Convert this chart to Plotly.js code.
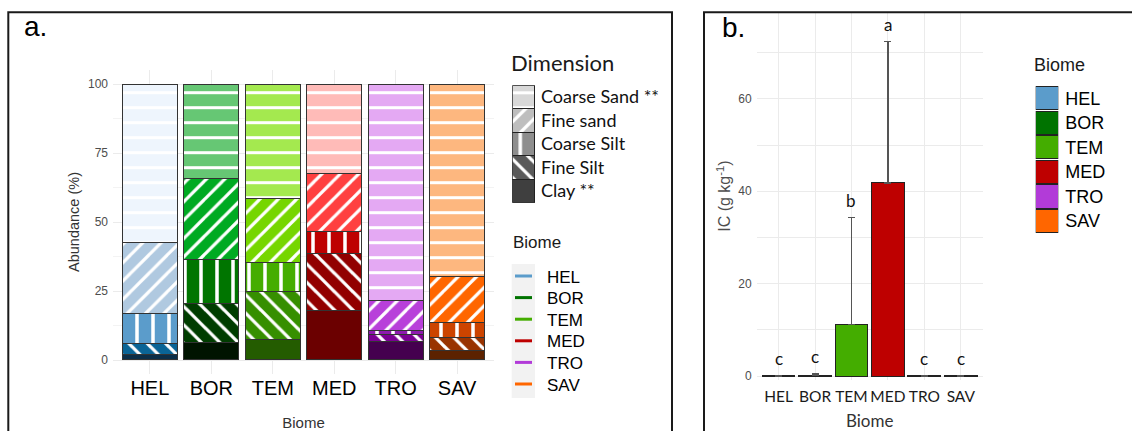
<!DOCTYPE html>
<html><head><meta charset="utf-8">
<script src="https://cdn.plot.ly/plotly-3.0.1.min.js"></script>
<style>html,body{margin:0;padding:0;background:#fff;} #chart{width:1132px;height:431px;}</style>
</head><body><div id="chart"></div>
<script>
// ---------- data ----------
const biomes = ['HEL', 'BOR', 'TEM', 'MED', 'TRO', 'SAV'];
const dimensions = ['Clay **', 'Fine Silt', 'Coarse Silt', 'Fine sand', 'Coarse Sand **'];
// Abundance (%) of each particle-size dimension per biome (panel a)
const clay       = [2.1, 6.5, 7.5, 17.9, 6.8, 3.5];
const fineSilt   = [3.7, 13.8, 17.5, 20.6, 2.6, 4.5];
const coarseSilt = [10.9, 16.2, 10.4, 8.2, 1.2, 5.5];
const fineSand   = [25.9, 29.2, 23.2, 20.8, 10.9, 16.7];
const coarseSand = [57.4, 34.3, 41.4, 32.5, 78.5, 69.8];
// IC (g kg-1) per biome (panel b)
const icMean    = [0.05, 0.2, 11.2, 41.8, 0.05, 0.05];
const icErr     = [0, 0.3, 23.1, 30.6, 0, 0];
const icLetters = ['c', 'c', 'b', 'a', 'c', 'c'];

// ---------- styles ----------
const colClay       = ['#0B2E48', '#001400', '#245C00', '#6B0000', '#45004F', '#5C2200'];
const colFineSilt   = ['#0A6496', '#003D00', '#368F00', '#920000', '#7B0093', '#993300'];
const colCoarseSilt = ['#5B9CCB', '#007500', '#45AD00', '#BE0000', '#8E1AAE', '#CC4400'];
const colFineSand   = ['#B0C9E0', '#00AA22', '#76D600', '#FF4040', '#B840DA', '#FF6600'];
const colCoarseSand = ['#EEF5FD', '#66C774', '#A4E94F', '#FFBBB8', '#E4A9F3', '#FDB77F'];
const biomeColors   = ['#5B9CCB', '#007300', '#44AD00', '#BE0000', '#B23BD8', '#FF6600'];
const keyGrays      = ['#3F3F3F', '#5A5A5A', '#8E8E8E', '#BEBEBE', '#D8D8D8'];
const patShape = ['', '\\', '|', '/', '-'];
const patSize  = [8, 13, 16, 13, 15];
const patSolid = [0.2, 0.25, 0.22, 0.25, 0.2];

const W = 1132, H = 431;
const px = v => v / W;
const py = v => 1 - v / H;
const ARIAL = 'Liberation Sans, Arial, sans-serif';
const CALIBRI = 'Lato, Open Sans, sans-serif';

const series = [clay, fineSilt, coarseSilt, fineSand, coarseSand];
const seriesCols = [colClay, colFineSilt, colCoarseSilt, colFineSand, colCoarseSand];

const traces = [];
series.forEach((vals, i) => {
  const marker = {line: {color: '#333', width: 1}};
  if (patShape[i]) {
    // scalar marker colour so the pattern's own per-bar bgcolor/fgcolor are used
    marker.color = '#ffffff';
    marker.pattern = {shape: patShape[i], size: patSize[i], solidity: patSolid[i],
                      fgcolor: '#ffffff', fgopacity: 1, bgcolor: seriesCols[i], fillmode: 'replace'};
  } else {
    marker.color = seriesCols[i];
  }
  traces.push({
    type: 'bar', name: dimensions[i], x: biomes, y: vals, xaxis: 'x', yaxis: 'y',
    marker: marker, showlegend: false, hoverinfo: 'skip'
  });
});

// Dimension key (legend of panel a)
traces.push({
  type: 'bar', orientation: 'h', y: dimensions, x: dimensions.map(() => 1), width: 1,
  xaxis: 'x3', yaxis: 'y3',
  marker: {
    color: keyGrays[0], line: {color: '#222', width: 1},
    pattern: {shape: patShape, size: patSize, solidity: patSolid,
              fgcolor: '#ffffff', fgopacity: 1, bgcolor: keyGrays, fillmode: 'replace'}
  },
  showlegend: false, hoverinfo: 'skip'
});

// Panel b bars
traces.push({
  type: 'bar', x: biomes, y: icMean, xaxis: 'x2', yaxis: 'y2',
  marker: {color: biomeColors, line: {color: '#222', width: 1}},
  error_y: {type: 'data', symmetric: false, array: icErr, arrayminus: icErr.map(() => 0),
            color: '#555', thickness: 1.4, width: 3.5},
  showlegend: false, hoverinfo: 'skip'
});

// Panel b legend keys
traces.push({
  type: 'bar', orientation: 'h', y: biomes, x: biomes.map(() => 1), width: 0.94,
  xaxis: 'x4', yaxis: 'y4',
  marker: {color: biomeColors, line: {color: '#222', width: 1}},
  showlegend: false, hoverinfo: 'skip'
});

const annotations = [];
const shapes = [];

// letters panel b
biomes.forEach((b, i) => {
  annotations.push({x: b, y: icMean[i] + icErr[i], xref: 'x2', yref: 'y2', text: icLetters[i],
    showarrow: false, yanchor: 'middle', yshift: 17, font: {family: CALIBRI, size: 17, color: '#111'}});
});

// panel labels
annotations.push({x: px(22), y: py(27), xref: 'paper', yref: 'paper', xanchor: 'left', yanchor: 'middle',
  text: 'a.', showarrow: false, font: {family: ARIAL, size: 28, color: '#000'}});
annotations.push({x: px(720), y: py(28), xref: 'paper', yref: 'paper', xanchor: 'left', yanchor: 'middle',
  text: 'b.', showarrow: false, font: {family: ARIAL, size: 28, color: '#000'}});

// legend titles
annotations.push({x: px(509), y: py(62.5), xref: 'paper', yref: 'paper', xanchor: 'left', yanchor: 'middle',
  text: 'Dimension', showarrow: false, font: {family: CALIBRI, size: 22, color: '#1a1a1a'}});
annotations.push({x: px(511), y: py(243), xref: 'paper', yref: 'paper', xanchor: 'left', yanchor: 'middle',
  text: 'Biome', showarrow: false, font: {family: ARIAL, size: 17, color: '#1a1a1a'}});
annotations.push({x: px(1032), y: py(65), xref: 'paper', yref: 'paper', xanchor: 'left', yanchor: 'middle',
  text: 'Biome', showarrow: false, font: {family: ARIAL, size: 18, color: '#1a1a1a'}});

// panel a biome legend (line keys)
shapes.push({type: 'rect', xref: 'paper', yref: 'paper', x0: px(511.7), x1: px(535), y0: py(398), y1: py(264),
  fillcolor: '#F2F2F2', line: {width: 0}, layer: 'below'});
biomes.forEach((b, i) => {
  const yy = 276 + i * 21.6;
  shapes.push({type: 'line', xref: 'paper', yref: 'paper', x0: px(515), x1: px(532), y0: py(yy), y1: py(yy),
    line: {color: biomeColors[i], width: 3}});
  annotations.push({x: px(545), y: py(yy + 1), xref: 'paper', yref: 'paper', xanchor: 'left', yanchor: 'middle',
    text: b, showarrow: false, font: {family: ARIAL, size: 17, color: '#000'}});
});

// frames
shapes.push({type: 'rect', xref: 'paper', yref: 'paper', x0: px(8.3), x1: px(672), y0: py(450), y1: py(12.3),
  line: {color: '#1a1a1a', width: 2}, fillcolor: 'rgba(0,0,0,0)', layer: 'above'});
shapes.push({type: 'rect', xref: 'paper', yref: 'paper', x0: px(704), x1: px(1145), y0: py(450), y1: py(12.3),
  line: {color: '#1a1a1a', width: 2}, fillcolor: 'rgba(0,0,0,0)', layer: 'above'});

const grid = '#EBEBEB';
const layout = {
  width: W, height: H, margin: {l: 0, r: 0, t: 0, b: 0},
  paper_bgcolor: '#fff', plot_bgcolor: 'rgba(0,0,0,0)',
  barmode: 'stack', bargap: 0.1, showlegend: false,
  font: {family: ARIAL},
  xaxis: {domain: [px(113), px(494)], type: 'category', categoryarray: biomes, range: [-0.6, 5.6],
    showgrid: true, gridcolor: grid, gridwidth: 1, zeroline: false, showline: false, ticks: '',
    tickfont: {family: ARIAL, size: 20, color: '#000'}, anchor: 'y',
    title: {text: 'Biome', font: {family: ARIAL, size: 15, color: '#333'}, standoff: 20}},
  yaxis: {domain: [py(373.8), py(70.2)], range: [-5, 105], tick0: 0, dtick: 25, anchor: 'x',
    showgrid: true, gridcolor: grid, gridwidth: 1, zeroline: false, showline: false, ticks: '',
    minor: {tick0: 0, dtick: 12.5, showgrid: true, gridcolor: '#F3F3F3', gridwidth: 1, ticks: ''},
    tickfont: {family: ARIAL, size: 12, color: '#4D4D4D'}, ticklabelstandoff: 4,
    title: {text: 'Abundance (%)', font: {family: ARIAL, size: 14.5, color: '#333'}, standoff: 4}},
  xaxis2: {domain: [px(756.7), px(982.7)], type: 'category', categoryarray: biomes, range: [-0.6, 5.6],
    showgrid: true, gridcolor: grid, gridwidth: 1, zeroline: false, showline: false, ticks: '',
    tickfont: {family: CALIBRI, size: 15.5, color: '#1a1a1a'}, anchor: 'y2', ticklabelstandoff: 5,
    title: {text: 'Biome', font: {family: CALIBRI, size: 17, color: '#333'}, standoff: 14}},
  yaxis2: {domain: [py(380.2), py(12)], range: [-0.9, 78.8], tick0: 0, dtick: 20, anchor: 'x2',
    showgrid: true, gridcolor: grid, gridwidth: 1, zeroline: false, showline: false, ticks: '',
    minor: {tick0: 0, dtick: 10, showgrid: true, gridcolor: grid, gridwidth: 1, ticks: ''},
    tickfont: {family: ARIAL, size: 12, color: '#4D4D4D'}, ticklabelstandoff: 4,
    title: {text: 'IC (g kg<sup>-1</sup>)', font: {family: ARIAL, size: 16, color: '#4D4D4D'}, standoff: 3}},
  xaxis3: {domain: [px(512.3), px(535)], range: [0, 1], visible: false, anchor: 'y3', fixedrange: true},
  yaxis3: {domain: [py(202.7), py(85.3)], type: 'category', categoryarray: dimensions, range: [-0.5, 4.5],
    anchor: 'x3', side: 'right', showgrid: false, zeroline: false, showline: false, ticks: '',
    tickfont: {family: CALIBRI, size: 18, color: '#111'}, ticklabelstandoff: 5},
  xaxis4: {domain: [px(1035.7), px(1058.3)], range: [0, 1], visible: false, anchor: 'y4', fixedrange: true},
  yaxis4: {domain: [py(233.3), py(86)], type: 'category', categoryarray: biomes, range: [5.5, -0.5],
    anchor: 'x4', side: 'right', showgrid: false, zeroline: false, showline: false, ticks: '',
    tickfont: {family: ARIAL, size: 18, color: '#000'}, ticklabelstandoff: 6},
  annotations: annotations,
  shapes: shapes
};

Plotly.newPlot('chart', traces, layout, {staticPlot: true, displayModeBar: false});
</script>
</body></html>
